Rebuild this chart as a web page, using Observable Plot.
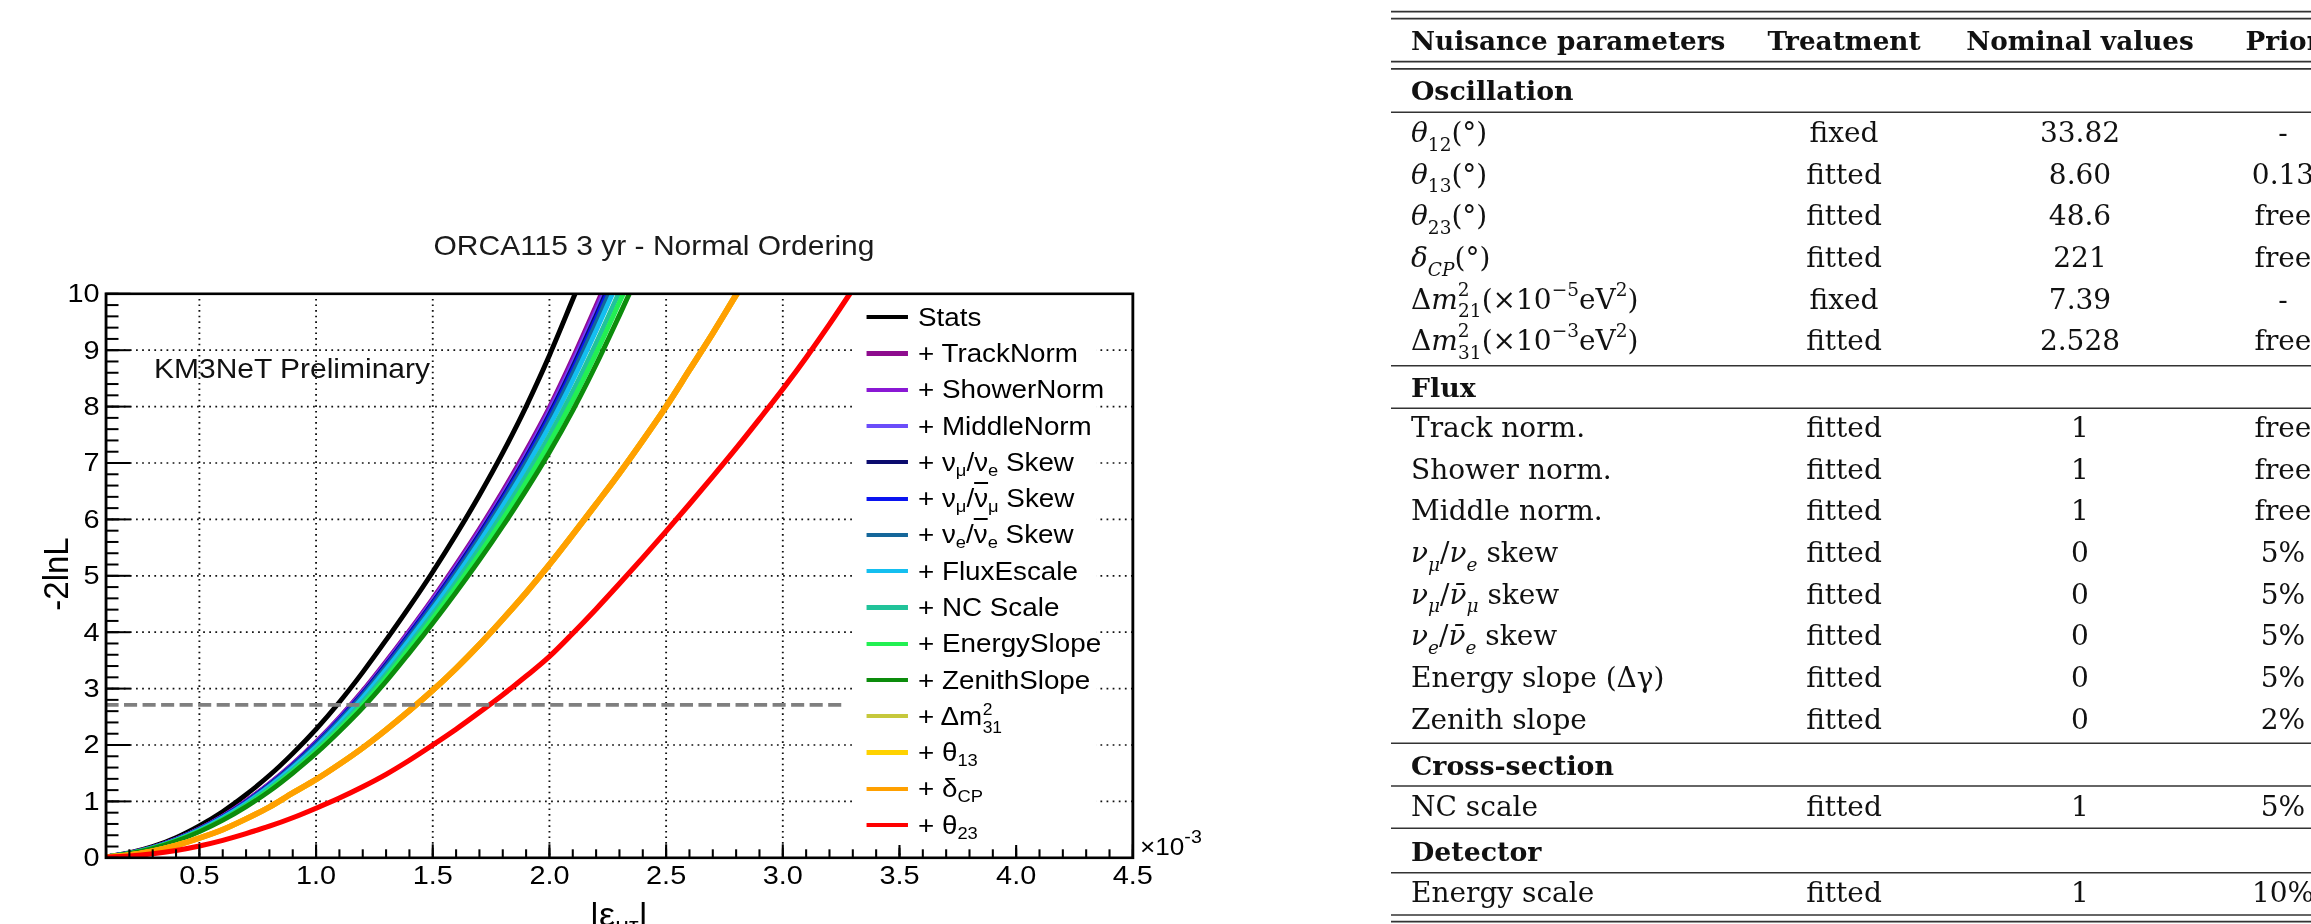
<!DOCTYPE html>
<html>
<head>
<meta charset="utf-8">
<script src="https://cdn.jsdelivr.net/npm/d3@7"></script>
<script src="https://cdn.jsdelivr.net/npm/@observablehq/plot@0.6"></script>
<style>
html, body { margin: 0; padding: 0; background: #fff; width: 2311px; height: 924px; overflow: hidden; }
#chart { position: absolute; left: 0; top: 0; width: 1147px; height: 924px; transform: scaleX(1.09); transform-origin: 0 0;
  font-family: "Liberation Sans", Arial, sans-serif; color: #000; }
#chart svg { display: block; }
.abs { position: absolute; white-space: nowrap; }
.lg sub { font-size: 0.66em; vertical-align: -0.32em; line-height: 0; }
.lg sup { font-size: 0.66em; vertical-align: 0.5em; line-height: 0; }
.ob { text-decoration: overline; text-decoration-thickness: 2px; }
#table { position: absolute; left: 0; top: 0; }
</style>
</head>
<body>
<div id="chart"></div>
<svg id="table" width="2311" height="924"></svg>
<script>
// ---------------- data ----------------
const xGrid = [0.1,0.2,0.3,0.4,0.5,0.6,0.7,0.8,0.9,1.0,1.1,1.2,1.3,1.4,1.5,1.6,1.7,1.8,1.9,2.0,2.1,2.2,2.3,2.4,2.5,2.6,2.7,2.8,2.9,3.0,3.1,3.2,3.3];

const statsValues       = [0.02,0.09,0.2,0.36,0.57,0.82,1.12,1.46,1.85,2.28,2.76,3.29,3.86,4.45,5.07,5.73,6.43,7.18,8.0,8.91,9.9,10.9];
const trackNormValues   = [0.02,0.083,0.185,0.33,0.515,0.74,1.01,1.318,1.667,2.058,2.49,2.963,3.484,4.03,4.6,5.2,5.83,6.5,7.22,7.99,8.86,9.79,10.74];
const showerNormValues  = [0.02,0.082,0.184,0.328,0.512,0.735,1.0,1.31,1.655,2.045,2.476,2.94,3.464,4.01,4.577,5.17,5.8,6.464,7.174,7.949,8.806,9.733,10.68];
const middleNormValues  = [0.02,0.081,0.183,0.326,0.509,0.73,0.995,1.303,1.648,2.035,2.462,2.93,3.445,3.988,4.552,5.142,5.767,6.428,7.135,7.904,8.754,9.674,10.62];
const numuNueValues     = [0.02,0.081,0.182,0.324,0.506,0.727,0.99,1.296,1.64,2.025,2.45,2.915,3.425,3.966,4.527,5.114,5.735,6.394,7.097,7.859,8.702,9.615,10.56];
const numuNumubarValues = [0.02,0.08,0.181,0.322,0.503,0.723,0.985,1.289,1.632,2.015,2.44,2.9,3.406,3.944,4.503,5.085,5.705,6.361,7.059,7.815,8.651,9.557,10.5];
const nueNuebarValues   = [0.02,0.08,0.18,0.32,0.5,0.718,0.977,1.279,1.62,2.0,2.42,2.88,3.38,3.916,4.47,5.05,5.666,6.317,7.008,7.756,8.583,9.48,10.42];
const fluxEscaleValues  = [0.02,0.079,0.176,0.315,0.493,0.71,0.966,1.263,1.598,1.97,2.388,2.84,3.336,3.866,4.414,4.989,5.598,6.24,6.92,7.654,8.465,9.347,10.275];
const ncScaleValues     = [0.02,0.077,0.174,0.31,0.48,0.69,0.94,1.232,1.56,1.925,2.33,2.77,3.255,3.783,4.322,4.888,5.483,6.111,6.773,7.486,8.271,9.126,10.04,10.96];
const energySlopeValues = [0.02,0.075,0.171,0.303,0.472,0.678,0.923,1.205,1.526,1.884,2.28,2.713,3.196,3.715,4.247,4.805,5.389,6.005,6.655,7.352,8.113,8.946,9.847,10.76];
const zenithSlopeValues = [0.015,0.074,0.166,0.296,0.462,0.665,0.905,1.18,1.5,1.85,2.24,2.66,3.127,3.635,4.158,4.707,5.278,5.881,6.517,7.194,7.932,8.744,9.62,10.52];
const dm31Values        = [0.015,0.05,0.12,0.22,0.35,0.5,0.69,0.9,1.15,1.39,1.66,1.95,2.27,2.61,2.97,3.36,3.78,4.23,4.7,5.2,5.73,6.27,6.82,7.4,8.0,8.65,9.3,9.98,10.65];
const theta13Values     = [0.015,0.05,0.12,0.22,0.35,0.5,0.69,0.9,1.15,1.39,1.66,1.95,2.27,2.61,2.97,3.36,3.78,4.23,4.7,5.2,5.73,6.27,6.82,7.4,8.0,8.65,9.3,9.98,10.65];
const deltaCPValues     = [0.015,0.05,0.12,0.22,0.35,0.5,0.69,0.9,1.15,1.39,1.66,1.95,2.27,2.61,2.97,3.36,3.78,4.23,4.7,5.2,5.73,6.27,6.82,7.4,8.0,8.65,9.3,9.98,10.65];
const theta23Values     = [0.01,0.03,0.07,0.13,0.21,0.31,0.43,0.56,0.71,0.88,1.06,1.26,1.48,1.73,2.0,2.28,2.58,2.89,3.22,3.57,3.98,4.41,4.86,5.32,5.79,6.27,6.76,7.26,7.78,8.31,8.87,9.46,10.08];

const seriesNames = ["Stats","+ TrackNorm","+ ShowerNorm","+ MiddleNorm","+ νμ/νe Skew","+ νμ/ν̄μ Skew","+ νe/ν̄e Skew",
  "+ FluxEscale","+ NC Scale","+ EnergySlope","+ ZenithSlope","+ Δm²31","+ θ13","+ δCP","+ θ23"];
const legendLabels = ["Stats","+ TrackNorm","+ ShowerNorm","+ MiddleNorm",
  "+ ν<sub>μ</sub>/ν<sub>e</sub> Skew",
  "+ ν<sub>μ</sub>/<span class='ob'>ν</span><sub>μ</sub> Skew",
  "+ ν<sub>e</sub>/<span class='ob'>ν</span><sub>e</sub> Skew",
  "+ FluxEscale","+ NC Scale","+ EnergySlope","+ ZenithSlope",
  "+ Δm",
  "+ θ<sub>13</sub>","+ δ<sub>CP</sub>","+ θ<sub>23</sub>"];
const legendStackedScripts = {11: ["2", "31"]};   // superscript over subscript
const seriesColors = ["#000000","#8e0c8e","#8a18d4","#6b4dfa","#0b0b6e","#0a14f0","#15679a",
  "#14bff0","#21c39a","#22f052","#0c8c0c","#c6c83c","#ffd200","#ffa000","#ff0000"];
const seriesValues = [statsValues,trackNormValues,showerNormValues,middleNormValues,numuNueValues,numuNumubarValues,
  nueNuebarValues,fluxEscaleValues,ncScaleValues,energySlopeValues,zenithSlopeValues,dm31Values,theta13Values,deltaCPValues,theta23Values];
const seriesWidths = [4.6,4.5,4.5,4.5,4.5,4.5,4.5,4.5,4.5,4.5,4.6,5.4,5.4,5.6,5.0];

const xMajorTicks = [0.5,1.0,1.5,2.0,2.5,3.0,3.5,4.0,4.5];
const xGridTicks = [0.5,1.0,1.5,2.0,2.5,3.0,3.5,4.0];
const yLabelTicks = [0,1,2,3,4,5,6,7,8,9,10];
const yGridTicks = [1,2,3,4,5,6,7,8,9];
const thresholdRule = [{y: 2.71, x1: 0.1, x2: 3.27}];

const titleText = "ORCA115 3 yr - Normal Ordering";
const yLabelText = "-2lnL";
const watermarkText = "KM3NeT Preliminary";

// table data
const tableHeader = ["Nuisance parameters","Treatment","Nominal values","Prior"];
const sectionNames = ["Oscillation","Flux","Cross-section","Detector"];
const paramNames = [
  [{t:"θ",it:1},{t:"12",pos:"sub"},{t:"(°)"}],
  [{t:"θ",it:1},{t:"13",pos:"sub"},{t:"(°)"}],
  [{t:"θ",it:1},{t:"23",pos:"sub"},{t:"(°)"}],
  [{t:"δ",it:1},{t:"CP",pos:"sub",it:1},{t:"(°)"}],
  [{t:"Δ"},{t:"m",it:1},{t:"2",pos:"sup"},{t:"21",pos:"sub",dx:-11.5},{t:"(×10"},{t:"−5",pos:"sup"},{t:"eV"},{t:"2",pos:"sup"},{t:")"}],
  [{t:"Δ"},{t:"m",it:1},{t:"2",pos:"sup"},{t:"31",pos:"sub",dx:-11.5},{t:"(×10"},{t:"−3",pos:"sup"},{t:"eV"},{t:"2",pos:"sup"},{t:")"}],
  [{t:"Track norm."}],
  [{t:"Shower norm."}],
  [{t:"Middle norm."}],
  [{t:"ν",it:1},{t:"μ",pos:"sub",it:1},{t:"/"},{t:"ν",it:1},{t:"e",pos:"sub",it:1},{t:" skew"}],
  [{t:"ν",it:1},{t:"μ",pos:"sub",it:1},{t:"/"},{t:"ν\u0304",it:1},{t:"μ",pos:"sub",it:1},{t:" skew"}],
  [{t:"ν",it:1},{t:"e",pos:"sub",it:1},{t:"/"},{t:"ν\u0304",it:1},{t:"e",pos:"sub",it:1},{t:" skew"}],
  [{t:"Energy slope (Δγ)"}],
  [{t:"Zenith slope"}],
  [{t:"NC scale"}],
  [{t:"Energy scale"}]
];
const treatments = ["fixed","fitted","fitted","fitted","fixed","fitted","fitted","fitted","fitted","fitted","fitted","fitted","fitted","fitted","fitted","fitted"];
const nominalValues = ["33.82","8.60","48.6","221","7.39","2.528","1","1","1","0","0","0","0","0","1","1"];
const priors = ["-","0.13","free","free","-","free","free","free","free","5%","5%","5%","5%","2%","5%","10%"];

// ---------------- chart ----------------
const SX = 1.09;                    // horizontal stretch of the whole chart
const W = 1147, H = 924;
const frameLeft = 105.5, frameRight = 1132.3, frameTop = 293.3, frameBottom = 857.3; // page px
const mL = frameLeft / SX, mR = W - frameRight / SX;
const frameW = W - mL - mR, frameH = frameBottom - frameTop;
const cx = X => X / SX;

const xMinorTicks = d3.range(1, 46).map(i => i / 10);
const yMinorTicks = d3.range(0, 51).map(i => i / 5);

const lineMarks = seriesValues.map((vals, k) =>
  Plot.line(vals.map((v, i) => ({x: xGrid[i], y: v, series: seriesNames[k]})),
    {x: "x", y: "y", stroke: seriesColors[k], strokeWidth: seriesWidths[k], curve: "monotone-x", clip: true}));

const plot = Plot.plot({
  width: W, height: H,
  marginLeft: mL, marginRight: mR, marginTop: frameTop, marginBottom: H - frameBottom,
  style: {fontFamily: "'Liberation Sans', Arial, sans-serif", fontSize: "26.5px", color: "#000", background: "transparent", overflow: "visible"},
  x: {domain: [0.1, 4.5], ticks: xMajorTicks, tickFormat: d3.format(".1f"), tickSize: 0, tickPadding: 7, label: null},
  y: {domain: [0, 10], ticks: yLabelTicks, tickFormat: d3.format("d"), tickSize: 0, tickPadding: 6, label: null},
  marks: [
    Plot.ruleX(xGridTicks, {stroke: "#111", strokeWidth: 1.7, strokeDasharray: "1.6,4"}),
    Plot.ruleY(yGridTicks, {stroke: "#111", strokeWidth: 1.7, strokeDasharray: "1.6,4"}),
    ...lineMarks,
    Plot.ruleY(thresholdRule, {y: "y", x1: "x1", x2: "x2", stroke: "#7f7f7f", strokeWidth: 3.8, strokeDasharray: "12,5"}),
    Plot.tickX(xMinorTicks, {x: d => d, insetTop: frameH - 8, stroke: "#000", strokeWidth: 1.9}),
    Plot.tickX(xMajorTicks, {x: d => d, insetTop: frameH - 13, stroke: "#000", strokeWidth: 1.9}),
    Plot.tickY(yMinorTicks, {y: d => d, insetRight: frameW - 13 / SX, stroke: "#000", strokeWidth: 2}),
    Plot.tickY(yLabelTicks, {y: d => d, insetRight: frameW - 25 / SX, stroke: "#000", strokeWidth: 2}),
    Plot.frame({stroke: "#000", strokeWidth: 2.6})
  ]
});
const chart = document.getElementById("chart");
chart.appendChild(plot);

function place(html, xPage, baseline, fs, anchor, extra) {
  const d = document.createElement("div");
  d.className = "abs";
  d.innerHTML = html;
  d.style.fontSize = fs + "px";
  d.style.lineHeight = fs + "px";
  d.style.left = cx(xPage) + "px";
  d.style.top = (baseline - 0.8465 * fs) + "px";
  if (anchor === "middle") d.style.transform = "translateX(-50%)";
  if (extra) Object.assign(d.style, extra);
  chart.appendChild(d);
  return d;
}

// title, watermark, axis labels
place(titleText, 654, 255, 27.5, "middle", {color: "#1a1a1a"});
place(watermarkText, 154, 378.3, 27.5, "start", {color: "#111"});
place("×10<sup style='font-size:18px;vertical-align:12px;line-height:0'>-3</sup>", 1140, 855, 24, "start");
place("|ε<sub style='font-size:22px;vertical-align:-7px;line-height:0'>μτ</sub>|", 618.8, 926, 33, "middle");
const yl = document.createElement("div");
yl.className = "abs";
yl.textContent = yLabelText;
Object.assign(yl.style, {fontSize: "33px", lineHeight: "33px", left: cx(55.8) + "px", top: "573.5px",
  transform: "translate(-50%,-50%) rotate(-90deg)"});
chart.appendChild(yl);

// legend
const legendBox = document.createElement("div");
legendBox.className = "abs";
Object.assign(legendBox.style, {left: cx(852) + "px", top: "299px", width: (cx(1097) - cx(852)) + "px", height: "546px", background: "#fff"});
chart.appendChild(legendBox);
legendLabels.forEach((lab, i) => {
  const rowY = 317.3 + i * 36.27;
  const base = rowY + 9.1;
  const s = document.createElement("div");
  s.className = "abs";
  Object.assign(s.style, {left: cx(867) + "px", top: (rowY - 2.1) + "px", width: (cx(908) - cx(867)) + "px", height: "4.2px", background: seriesColors[i]});
  chart.appendChild(s);
  const t = place(lab, 918, base, 25.5, "start");
  t.classList.add("lg");
  const scripts = legendStackedScripts[i];
  if (scripts) {
    const endX = t.getBoundingClientRect().right + 0.5;   // page px
    place(scripts[0], endX, base - 9.5, 16, "start");
    place(scripts[1], endX, base + 8, 16, "start");
  }
});

// ---------------- table ----------------
const tbl = d3.select("#table");
const TL = 1391, TR = 2330;
const colLeft = 1411, colTreat = 1844, colNom = 2080, colPrior = 2283;
const ruleDefs = [[11.7,1.7],[18.7,1.7],[61.7,1.7],[68.9,1.7],[112.3,1.5],[365.7,1.5],[408.3,1.5],[743.3,1.5],[786,1.5],[828.3,1.5],[872.7,1.5],[915,1.7],[921.7,1.7]];
tbl.selectAll("line.r").data(ruleDefs).join("line")
  .attr("x1", TL).attr("x2", TR).attr("y1", d => d[0]).attr("y2", d => d[0])
  .attr("stroke", "#333").attr("stroke-width", d => d[1]);

const serif = "'DejaVu Serif', 'Liberation Serif', serif";
function tText(x, y, str, anchor, opts = {}) {
  return tbl.append("text").attr("x", x).attr("y", y).attr("text-anchor", anchor)
    .attr("font-family", serif).attr("font-size", opts.size || 28)
    .attr("font-weight", opts.bold ? "bold" : "normal").attr("fill", "#111").text(str);
}
function rich(x, y, segs) {
  const t = tbl.append("text").attr("x", x).attr("y", y).attr("font-family", serif).attr("font-size", 28).attr("fill", "#111");
  let off = 0;
  for (const s of segs) {
    const target = s.pos === "sub" ? 8.5 : s.pos === "sup" ? -13 : 0;
    const ts = t.append("tspan").text(s.t).attr("dy", target - off);
    if (s.dx) ts.attr("dx", s.dx);
    if (s.pos) ts.attr("font-size", 18.5);
    if (s.it) ts.attr("font-style", "italic");
    off = target;
  }
  return t;
}
const headerBaseline = 49.5;
const headerX = [colLeft, colTreat, colNom, colPrior];
const headerAnchor = ["start", "middle", "middle", "middle"];
tableHeader.forEach((h, i) => tText(headerX[i], headerBaseline, h, headerAnchor[i], {bold: true, size: 26.3}));
const sectionBaselines = [99.5, 397, 775, 860.5];
sectionNames.forEach((s, i) => tText(colLeft, sectionBaselines[i], s, "start", {bold: true, size: 26.8}));
const paramBaselines = [142,183.7,225.3,267,308.7,350.3,437,478.7,520.3,562,603.7,645.3,687,728.7,815.5,902];
paramNames.forEach((segs, i) => {
  const y = paramBaselines[i];
  rich(colLeft, y, segs);
  tText(colTreat, y, treatments[i], "middle");
  tText(colNom, y, nominalValues[i], "middle");
  tText(colPrior, y, priors[i], "middle");
});
</script>
</body>
</html>
